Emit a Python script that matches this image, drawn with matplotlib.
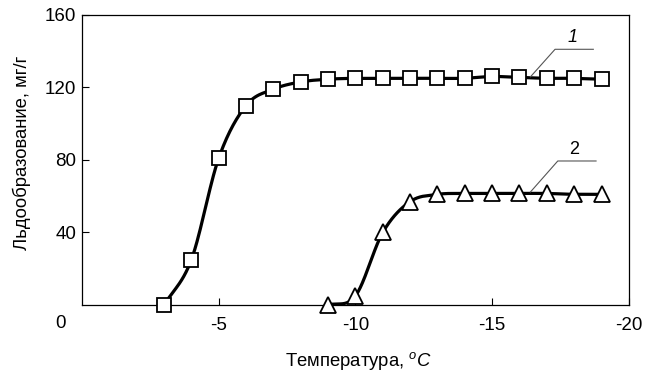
import numpy as np
import matplotlib

matplotlib.use("Agg")
import matplotlib.pyplot as plt

plt.rcParams["font.family"] = ["Liberation Sans", "DejaVu Sans"]
plt.rcParams["mathtext.fontset"] = "custom"
plt.rcParams["mathtext.rm"] = "Liberation Sans"
plt.rcParams["mathtext.it"] = "Liberation Sans:italic"
plt.rcParams["axes.unicode_minus"] = False

# series 1 (squares) and 2 (triangles): temperature, ice formation
temp1 = [-3, -4, -5, -6, -7, -8, -9, -10, -11, -12, -13, -14, -15, -16, -17, -18, -19]
ice1 = [0, 25, 81, 110, 119, 123, 124.5, 125, 125, 125, 125, 125, 126, 125.5, 125, 125, 124.5]
temp2 = [-9, -10, -11, -12, -13, -14, -15, -16, -17, -18, -19]
ice2 = [0, 5, 40, 57, 61, 61.5, 61.5, 61.5, 61.5, 61, 61]

x_ticks = [-5, -10, -15, -20]
y_ticks = [40, 80, 120, 160]


def smooth(x, y, n=400):
    """Catmull-Rom style cubic through the points, for the connecting line only."""
    x = np.asarray(x, float)
    y = np.asarray(y, float)
    h = np.diff(x)
    d = np.diff(y) / h
    m = np.empty_like(y)
    m[1:-1] = (y[2:] - y[:-2]) / (x[2:] - x[:-2])
    m[0] = d[0]
    m[-1] = d[-1]
    xs = np.linspace(x[0], x[-1], n)
    idx = np.clip(np.searchsorted(x, xs, side="right") - 1, 0, len(x) - 2)
    t = (xs - x[idx]) / h[idx]
    h00 = 2 * t**3 - 3 * t**2 + 1
    h10 = t**3 - 2 * t**2 + t
    h01 = -2 * t**3 + 3 * t**2
    h11 = t**3 - t**2
    ys = h00 * y[idx] + h10 * h[idx] * m[idx] + h01 * y[idx + 1] + h11 * h[idx] * m[idx + 1]
    return xs, ys


fig = plt.figure(figsize=(6.51, 3.71), dpi=100)
ax = fig.add_axes([0.126, 0.178, 0.840, 0.782])

for t, v, mk, ms in [(temp1, ice1, "s", 9.5), (temp2, ice2, "^", 11)]:
    xs, ys = smooth(t[::-1], v[::-1])
    ax.plot(xs, ys, color="black", lw=2.3, zorder=2, clip_on=False)
    ax.plot(t, v, ls="none", marker=mk, ms=ms, mfc="white", mec="black", mew=1.3,
            zorder=3, clip_on=False)

# curve labels with leader lines
ax.plot([-16.4, -17.3, -18.7], [125.8, 141, 141], color="#555555", lw=0.8, zorder=4)
ax.text(-17.95, 143, "1", fontsize=13, style="italic", ha="center", va="bottom")
ax.plot([-16.4, -17.4, -18.8], [62.3, 79.4, 79.4], color="#555555", lw=0.8, zorder=4)
ax.text(-18.0, 81, "2", fontsize=13, ha="center", va="bottom")

ax.set_xlim(0, -20)
ax.set_ylim(0, 160)
ax.set_xticks(x_ticks)
ax.set_yticks(y_ticks)
ax.tick_params(direction="in", length=5, width=0.8, labelsize=13.5)
ax.tick_params(axis="x", pad=9)
ax.tick_params(axis="y", pad=4)
for s in ax.spines.values():
    s.set_linewidth(0.9)
ax.text(-0.04, -0.065, "0", transform=ax.transAxes, fontsize=13.5, ha="center", va="center")

ax.set_ylabel("Льдообразование, мг/г", fontsize=13.3)
ax.set_xlabel(r"Температура, $^{o}C$", fontsize=13.3)
ax.yaxis.set_label_coords(-0.094, 0.525)
ax.xaxis.set_label_coords(0.505, -0.155)

fig.savefig("out.png", dpi=100)
